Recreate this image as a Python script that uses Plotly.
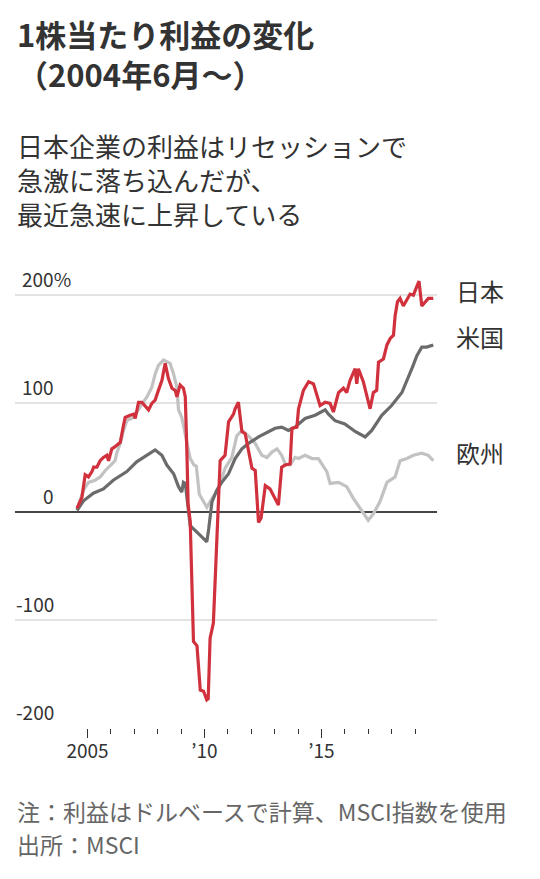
import plotly.graph_objects as go

# decimal-year positions and % change in EPS
JP_X = [2004.55, 2004.76, 2004.90, 2005.04, 2005.19, 2005.26, 2005.40, 2005.54, 2005.68, 2005.83,
        2005.90, 2006.04, 2006.18, 2006.32, 2006.40, 2006.54, 2006.61, 2006.82, 2006.97, 2007.04,
        2007.18, 2007.32, 2007.47, 2007.61, 2007.75, 2007.89, 2008.03, 2008.18, 2008.32, 2008.46,
        2008.61, 2008.75, 2008.82, 2008.96, 2009.10, 2009.18, 2009.25, 2009.30, 2009.39, 2009.53,
        2009.68, 2009.82, 2009.96, 2010.10, 2010.16, 2010.24, 2010.38, 2010.55, 2010.67, 2010.88,
        2011.03, 2011.24, 2011.31, 2011.45, 2011.60, 2011.74, 2012.03, 2012.17, 2012.31, 2012.42,
        2012.60, 2012.80, 2013.02, 2013.16, 2013.30, 2013.45, 2013.66, 2013.74, 2013.95, 2014.02,
        2014.23, 2014.45, 2014.66, 2014.80, 2014.94, 2015.16, 2015.37, 2015.51, 2015.73, 2015.94,
        2016.08, 2016.22, 2016.44, 2016.51, 2016.58, 2016.79, 2016.94, 2017.08, 2017.22, 2017.36,
        2017.44, 2017.65, 2017.80, 2017.94, 2018.08, 2018.15, 2018.25, 2018.36, 2018.50, 2018.65,
        2018.79, 2018.93, 2019.17, 2019.29, 2019.43, 2019.57, 2019.78]
JP_Y = [3, 13, 34, 32, 37, 41, 41, 47, 50, 52,
        47, 58, 60, 63, 64, 80, 87, 89, 90, 86,
        101, 101, 97, 94, 100, 103, 112, 121, 137, 123,
        114, 112, 106, 117, 114, 106, 54, 7, -9, -120,
        -124, -165, -166, -174, -173, -117, -103, -10, 47, 52,
        83, 90, 95, 101, 74, 72, 40, 38, -10, -6,
        24, 21, 12, 6, 41, 43, 44, 77, 78, 95,
        112, 120, 118, 107, 98, 101, 100, 92, 110, 114,
        110, 121, 132, 118, 132, 120, 106, 95, 110, 112,
        138, 141, 154, 160, 163, 181, 194, 197, 190, 195,
        201, 200, 213, 190, 194, 197, 197]

US_X = [2004.55, 2004.83, 2005.25, 2005.68, 2006.10, 2006.68, 2007.10, 2007.54, 2007.89, 2008.18,
        2008.39, 2008.68, 2008.89, 2009.03, 2009.10, 2009.18, 2009.39, 2009.82, 2010.10, 2010.18,
        2010.32, 2010.53, 2010.74, 2011.03, 2011.31, 2011.60, 2011.88, 2012.31, 2012.73, 2013.02,
        2013.30, 2013.59, 2013.87, 2014.30, 2014.73, 2015.16, 2015.30, 2015.58, 2016.00, 2016.44,
        2016.87, 2017.15, 2017.58, 2018.00, 2018.44, 2018.72, 2018.90, 2019.08, 2019.29, 2019.50,
        2019.78]
US_Y = [1, 10, 17, 21, 29, 37, 46, 52, 57, 52,
        43, 35, 23, 18, 27, 26, -13, -22, -28, -16,
        9, 20, 27, 35, 49, 58, 63, 69, 74, 77,
        78, 75, 78, 86, 89, 94, 90, 84, 81, 74,
        69, 75, 89, 98, 110, 124, 134, 144, 152, 152,
        154]

EU_X = [2004.55, 2004.83, 2005.04, 2005.33, 2005.54, 2005.76, 2006.18, 2006.25, 2006.40, 2006.54,
        2006.68, 2006.97, 2007.25, 2007.54, 2007.75, 2007.89, 2008.03, 2008.25, 2008.53, 2008.68,
        2008.82, 2008.89, 2009.03, 2009.25, 2009.39, 2009.55, 2009.65, 2009.78, 2010.03, 2010.10,
        2010.32, 2010.60, 2010.88, 2011.17, 2011.38, 2011.60, 2011.88, 2012.17, 2012.45, 2012.67,
        2012.88, 2013.10, 2013.30, 2013.45, 2013.66, 2013.87, 2014.02, 2014.30, 2014.60, 2014.87,
        2015.23, 2015.37, 2015.73, 2016.08, 2016.37, 2016.72, 2017.00, 2017.22, 2017.50, 2017.80,
        2018.15, 2018.36, 2018.65, 2018.93, 2019.29, 2019.57, 2019.78]
EU_Y = [2, 20, 27, 29, 32, 38, 47, 54, 63, 75,
        84, 87, 97, 106, 115, 127, 135, 140, 137, 127,
        115, 94, 87, 62, 49, 43, 42, 16, 6, 4,
        12, 21, 40, 50, 70, 75, 70, 63, 52, 50,
        55, 58, 52, 44, 43, 50, 49, 52, 49, 49,
        37, 26, 27, 23, 12, 1, -8, -2, 9, 27,
        32, 47, 49, 52, 54, 52, 47]

SERIES = [("欧州", EU_X, EU_Y, "#c2c2c2"),
          ("米国", US_X, US_Y, "#6b6b6b"),
          ("日本", JP_X, JP_Y, "#d0313d")]

Y_TICKS = [200, 100, 0, -100, -200]
Y_TEXT = ["200%", "100", "0", "-100", "-200"]
X_MAJOR = [2005, 2010, 2015]
X_MAJOR_TEXT = ["2005", "’10", "’15"]
X_MINOR = [2006, 2007, 2008, 2009, 2011, 2012, 2013, 2014, 2016, 2017, 2018, 2019]

FONT = "Noto Sans CJK JP"
INK = "#333333"

# page body adds 8px, so the figure is 532x871 and the plot box is
# left 7, right 429, top 272, bottom 720 in figure pixels
W, H = 532, 871
def py(p):
    return (720 - p) / 448

def px(p):
    return (p - 7) / 422


fig = go.Figure()
for name, xs, ys, col in SERIES:
    fig.add_trace(go.Scatter(x=xs, y=ys, mode="lines", name=name,
                             line=dict(color=col, width=3.2), hoverinfo="skip"))

ann = []
# series labels to the right of the last point
for name, xs, ys, col in SERIES:
    ann.append(dict(x=px(446), xref="paper", y=ys[-1], yref="y", yshift=8,
                    text=name, xanchor="left", yanchor="middle", showarrow=False,
                    font=dict(family=FONT, size=24, color=INK)))
# y tick labels sit above the gridlines, right aligned (the % hangs past)
for v, t in zip(Y_TICKS, Y_TEXT):
    if t.endswith("%"):
        ann.append(dict(x=px(12), xref="paper", y=v, yref="y", text=t,
                        xanchor="left", yanchor="bottom", yshift=1, showarrow=False,
                        font=dict(family=FONT, size=19, color=INK)))
    else:
        ann.append(dict(x=px(48), xref="paper", y=v, yref="y", text=t,
                        xanchor="right", yanchor="bottom", yshift=1, showarrow=False,
                        font=dict(family=FONT, size=19, color=INK)))

texts = [
    ("<b>1株当たり利益の変化</b><br><b>（2004年6月～）</b>", 46, 31, INK),
    ("日本企業の利益はリセッションで<br>急激に落ち込んだが、<br>最近急速に上昇している", 171, 26, INK),
    ("注：利益はドルベースで計算、MSCI指数を使用", 803, 23, "#666666"),
    ("出所：MSCI", 836, 23, "#666666"),
]
for t, y, s, c in texts:
    ann.append(dict(x=0, xref="paper", y=py(y), yref="paper", text=t, align="left",
                    xanchor="left", yanchor="middle", showarrow=False,
                    font=dict(family=FONT, size=s, color=c)))

fig.update_layout(
    width=W, height=H,
    margin=dict(l=7, r=W - 429, t=272, b=H - 720),
    paper_bgcolor="white", plot_bgcolor="white",
    showlegend=False,
    annotations=ann,
    xaxis=dict(range=[2001.9, 2019.94], tickmode="array", tickvals=X_MAJOR,
               ticktext=X_MAJOR_TEXT, ticks="outside", ticklen=9, tickwidth=1.2,
               tickcolor="#333333", showgrid=False, zeroline=False, showline=False,
               ticklabelstandoff=-3,
               tickfont=dict(family=FONT, size=19, color=INK),
               minor=dict(tickmode="array", tickvals=X_MINOR, ticks="outside",
                          ticklen=5, tickwidth=1.2, tickcolor="#333333", showgrid=False)),
    yaxis=dict(range=[-200, 214], tickmode="array", tickvals=Y_TICKS,
               showticklabels=False, showgrid=True, gridcolor="#e3e3e3", gridwidth=1.5,
               zeroline=True, zerolinecolor="#444444", zerolinewidth=1.6, showline=False),
)

fig.write_html("out.html")
